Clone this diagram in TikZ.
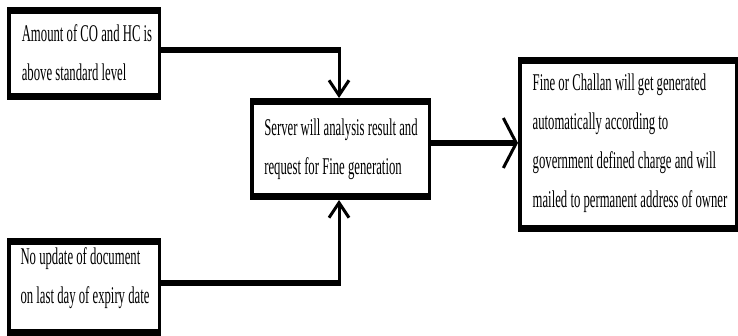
\documentclass[tikz,border=0pt]{standalone}
\usepackage{fontspec}
\newfontfamily\condfont[FakeStretch=0.53]{Liberation Serif}
\usetikzlibrary{arrows.meta}
\begin{document}
\begin{tikzpicture}[x=1pt,y=-1pt,
  boxshape/.style={rectangle,draw=none,inner sep=0pt,outer sep=0pt},
  txt/.style={inner sep=0pt,align=left,font=\condfont\fontsize{24}{39}\selectfont},
  hline/.style={line width=6.5pt},
  vline/.style={line width=3pt},
  vtip/.style={-{Straight Barb[length=15pt,width=20pt,line width=3pt]}},
  htip/.style={-{Straight Barb[length=13pt,width=50pt,line width=3pt]}}
]
\useasboundingbox[fill=white] (0,0) rectangle (738,336);
% boxes
\node[boxshape,minimum width=154pt,minimum height=93pt] (b1) at (84,53.5) {};
\node[boxshape,minimum width=181pt,minimum height=102pt] (b2) at (340.5,149) {};
\node[boxshape,minimum width=220pt,minimum height=175pt] (b3) at (628,144.5) {};
\node[boxshape,minimum width=154pt,minimum height=98pt] (b4) at (84,287) {};
\foreach \b in {b1,b2,b3,b4}{
  \fill (\b.north west) rectangle ([yshift=-7pt]\b.north east);
  \fill ([yshift=7pt]\b.south west) rectangle (\b.south east);
  \fill (\b.north west) rectangle ([xshift=3.5pt]\b.south west);
  \fill ([xshift=-3.5pt]\b.north east) rectangle (\b.south east);
}
% texts
\node[txt] (t1) at (87,52.5) {Amount of CO and HC is\\above standard level};
\node[txt] (t2) at (341,149) {Server will analysis result and\\request for Fine generation};
\node[txt] (t3) at (630,143) {Fine or Challan will get generated\\automatically according to\\government defined charge and will\\mailed to permanent address of owner};
\node[txt] (t4) at (85,278.5) {No update of document\\on last day of expiry date};
% connectors
\coordinate (k1) at (339,50);
\coordinate (k2) at (339,283);
\coordinate (k3) at (519,143);
\draw[hline,shorten >=-1.5pt] (b1.east |- k1) -- (k1);
\draw[vline,vtip,shorten <=-3pt] (k1) -- (k1 |- b2.north);
\draw[hline,shorten >=-1.5pt] (b4.east |- k2) -- (k2);
\draw[vline,vtip,shorten <=-3pt] (k2) -- (k2 |- b2.south);
\draw[hline,htip] (b2.east |- k3) -- (k3 -| b3.west);
\end{tikzpicture}
\end{document}
